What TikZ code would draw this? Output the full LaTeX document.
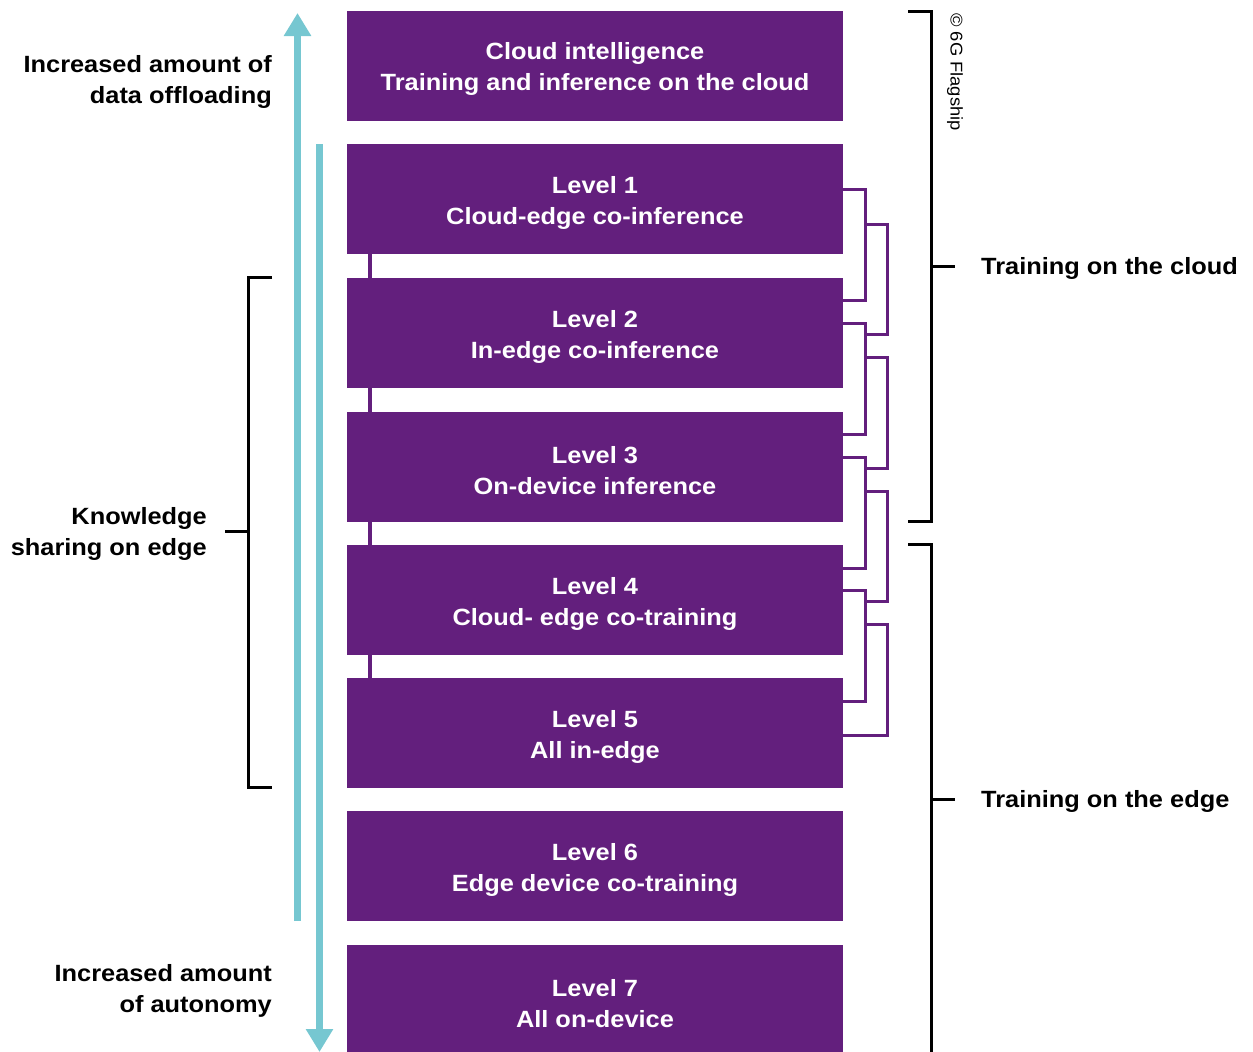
\documentclass[tikz,border=0pt]{standalone}
\usepackage{fontspec}
\setmainfont[FakeStretch=1.08]{Liberation Sans}
\usetikzlibrary{arrows.meta,calc}
\definecolor{lvlpurple}{RGB}{99,31,125}
\definecolor{flowteal}{RGB}{118,199,209}
\begin{document}
\begin{tikzpicture}[x=1pt,y=-1pt,
  level/.style={fill=lvlpurple, minimum width=496pt, minimum height=110pt, inner sep=0pt,
    label={[lvltext]center:{#1}}},
  lvltext/.style={text=white, inner sep=0pt, align=center, yshift=-3.5pt,
    font=\fontsize{23.5}{31}\selectfont\bfseries},
  lbl/.style={inner sep=0pt, font=\fontsize{23.5}{31}\selectfont\bfseries},
  link/.style={draw=lvlpurple, line width=4pt},
  pbr/.style={draw=lvlpurple, line width=3pt},
  kbr/.style={draw=black, line width=3pt},
  flow/.style={draw=flowteal, line width=7pt, -{Triangle[width=26pt,length=23pt]}}
]
\useasboundingbox (0,0) rectangle (1253,1052);

% level boxes
\node[level={Cloud intelligence\\Training and inference on the cloud}] (cloud) at (595,65.5) {};
\node[level={Level 1\\Cloud-edge co-inference}] (l1) at (595,199) {};
\node[level={Level 2\\In-edge co-inference}] (l2) at (595,333) {};
\node[level={Level 3\\On-device inference}] (l3) at (595,467) {};
\node[level={Level 4\\Cloud- edge co-training}] (l4) at (595,600) {};
\node[level={Level 5\\All in-edge}] (l5) at (595,733) {};
\node[level={Level 6\\Edge device co-training}] (l6) at (595,866) {};
\node[level={Level 7\\All on-device}] (l7) at (595,1000) {};

% short links between adjacent levels
\draw[link] ($(l1.south west)+(23,0)$) -- ($(l2.north west)+(23,0)$);
\draw[link] ($(l2.south west)+(23,0)$) -- ($(l3.north west)+(23,0)$);
\draw[link] ($(l3.south west)+(23,0)$) -- ($(l4.north west)+(23,0)$);
\draw[link] ($(l4.south west)+(23,0)$) -- ($(l5.north west)+(23,0)$);

% inner pairing brackets
\draw[pbr] ([yshift=10pt]l1.east) -- ++(22,0) |- ([yshift=33pt]l2.east);
\draw[pbr] ([yshift=10pt]l2.east) -- ++(22,0) |- ([yshift=33pt]l3.east);
\draw[pbr] ([yshift=10pt]l3.east) -- ++(22,0) |- ([yshift=32pt]l4.east);
\draw[pbr] ([yshift=10pt]l4.east) -- ++(22,0) |- ([yshift=32pt]l5.east);
% outer pairing brackets
\draw[pbr] (865,224) -- (887,224) -- (887,334) -- (865,334);
\draw[pbr] (865,357) -- (887,357) -- (887,468) -- (865,468);
\draw[pbr] (865,491) -- (887,491) -- (887,601) -- (865,601);
\draw[pbr] (865,624) -- (887,624) |- ([yshift=-2pt]l5.east);

% teal trend arrows
\coordinate (upstart) at (297.5,921);
\coordinate (uptip) at (297.5,13);
\coordinate (downstart) at (319.5,144);
\coordinate (downtip) at (319.5,1052);
\draw[flow] (upstart) -- (uptip);
\draw[flow] (downstart) -- (downtip);

% left labels
\node[lbl, anchor=east, align=right] (offload) at (272,82) {Increased amount of\\data offloading};
\node[lbl, anchor=east, align=right] (share) at (207,534) {Knowledge\\sharing on edge};
\node[lbl, anchor=east, align=right] (auton) at (272,991) {Increased amount\\of autonomy};

% knowledge sharing bracket
\draw[kbr] (272,277) -- (248,277) -- (248,787) -- (272,787);
\draw[kbr] (225,531.5) -- (248,531.5);

% right labels and brackets
\node[lbl, anchor=west] (tcloud) at (981,268.5) {Training on the cloud};
\node[lbl, anchor=west] (tedge) at (981,801.5) {Training on the edge};
\draw[kbr] (908,11) -- (931,11) -- (931,521) -- (908,521);
\draw[kbr] (931,266) -- (955,266);
\draw[kbr] (908,544) -- (931,544) -- (931,1060);
\draw[kbr] (931,799) -- (955,799);

\node[rotate=-90, inner sep=0pt, font=\fontsize{17}{20}\selectfont] (copy) at (955,72) {© 6G Flagship};
\end{tikzpicture}
\end{document}
